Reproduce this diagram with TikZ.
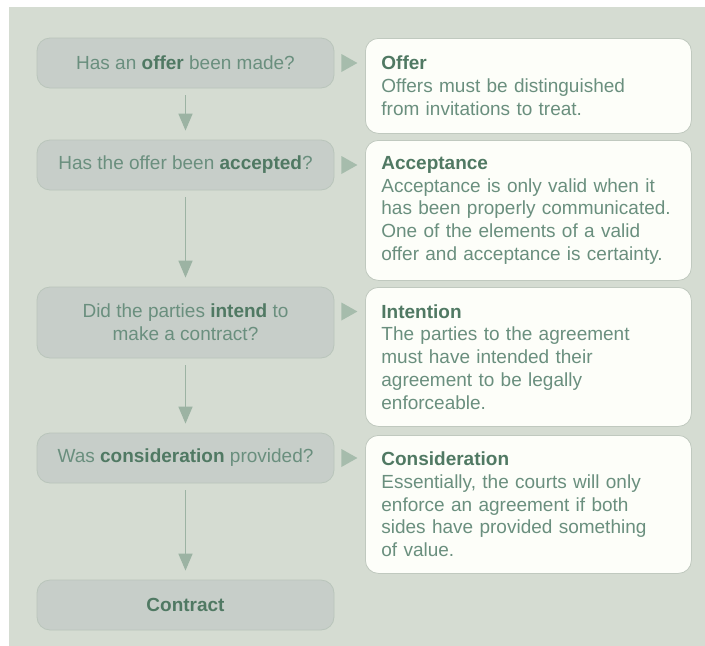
\documentclass[tikz,border=0pt]{standalone}
\usepackage{fontspec}
\setmainfont{Liberation Sans}
\usetikzlibrary{arrows.meta,calc}
\definecolor{panelbg}{RGB}{213,220,210}
\definecolor{qfill}{RGB}{199,206,201}
\definecolor{qdraw}{RGB}{185,197,187}
\definecolor{notefill}{RGB}{253,254,249}
\definecolor{notedraw}{RGB}{192,201,191}
\definecolor{bodytext}{RGB}{106,143,126}
\definecolor{headtext}{RGB}{80,121,99}
\definecolor{flowcolor}{RGB}{156,179,163}
\definecolor{tipcolor}{RGB}{166,188,172}
\newcommand{\hl}[1]{\textbf{\color{headtext}#1}}
\newcommand{\nohyph}{\hyphenpenalty=10000\relax\exhyphenpenalty=10000\relax}

\begin{document}
\begin{tikzpicture}[
  x=1pt, y=-1pt,
  question/.style={draw=qdraw, fill=qfill, line width=0.8pt, rounded corners=13pt,
    minimum width=297pt, minimum height=50pt, align=center, text=bodytext,
    font=\fontsize{19}{23}\selectfont},
  note/.style={draw=notedraw, fill=notefill, line width=0.8pt, rounded corners=13pt,
    anchor=north west, text width=294pt, inner xsep=16pt, inner ysep=0pt,
    align=left, text=bodytext, font=\fontsize{19}{22.7}\selectfont\nohyph},
  flow/.style={draw=flowcolor, line width=1.5pt, -{Triangle[width=14pt,length=17pt]}},
  pointer/.style={fill=tipcolor},
]

% ---------- panel ----------
\fill[white] (0,0) rectangle (705,646);
\fill[panelbg] (9,7) rectangle (705,646);
\useasboundingbox (0,0) rectangle (705,646);

% ---------- questions ----------
\node[question] (q1) at (185.5,63) {Has an \hl{offer} been made?};
\node[question] (q2) at (185.5,165) {Has the offer been \hl{accepted}?};
\node[question, minimum height=71pt] (q3) at (185.5,322.5)
  {Did the parties \hl{intend} to\\make a contract?};
\node[question] (q4) at (185.5,458) {Was \hl{consideration} provided?};
\node[question] (res) at (185.5,605) {\hl{Contract}};

\foreach \a/\b in {q1/q2, q2/q3, q3/q4, q4/res}
  \draw[flow] ([yshift=-7pt]\a.south) -- ([yshift=9pt]\b.north);

% ---------- notes ----------
\node[note, minimum height=95pt] (n1) at (365,38)
  {\hl{Offer}\\Offers must be distinguished\\from invitations to treat.};
\node[note, minimum height=140pt] (n2) at (365,140)
  {\hl{Acceptance}\\Acceptance is only valid when it\\has been properly communicated.\\
   One of the elements of a valid\\offer and acceptance is certainty.};
\node[note, minimum height=139pt] (n3) at (365,287)
  {\hl{Intention}\\The parties to the agreement\\must have intended their\\
   agreement to be legally\\enforceable.};
\node[note, minimum height=138pt] (n4) at (365,435)
  {\hl{Consideration}\\Essentially, the courts will only\\enforce an agreement if both\\
   sides have provided something\\of value.};

% ---------- pointers ----------
\fill[pointer] ($(q1.east)+(7,-9)$) -- ++(16,9) -- ++(-16,9) -- cycle;
\fill[pointer] ($(q2.east)+(7,-9)$) -- ++(16,9) -- ++(-16,9) -- cycle;
\fill[pointer] ($(q3.east)+(7,-20)$) -- ++(16,9) -- ++(-16,9) -- cycle;
\fill[pointer] ($(q4.east)+(7,-9)$) -- ++(16,9) -- ++(-16,9) -- cycle;

\end{tikzpicture}
\end{document}
